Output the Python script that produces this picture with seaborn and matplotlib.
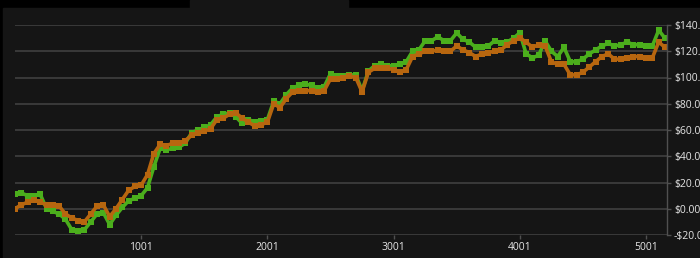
import matplotlib
matplotlib.use("Agg")
import matplotlib.pyplot as plt
import matplotlib.patches as mpatches
import numpy as np
import pandas as pd
import seaborn as sns

# x positions (trade index) and two series of values
x_vals = [1 + 50 * k for k in range(104)]
orange_vals = [0, 3, 5, 7, 5, 3, 3, 2, -4, -7, -9, -10, -4, 2, 3, -6, 0, 7, 14, 17,
               18, 26, 42, 49, 48, 50, 50, 52, 56, 58, 59, 61, 68, 69, 72, 73, 69, 66, 63, 64,
               66, 80, 77, 84, 89, 90, 90, 90, 89, 90, 99, 99, 100, 101, 100, 89, 104, 107, 107, 107,
               106, 104, 106, 116, 118, 120, 120, 121, 120, 120, 124, 121, 119, 116, 118, 119, 120, 121, 125, 128,
               130, 127, 123, 125, 124, 112, 110, 110, 102, 102, 104, 108, 112, 116, 118, 114, 114, 115, 116, 116,
               115, 115, 127, 123]
green_vals = [11, 12, 10, 10, 11, 0, -2, -4, -8, -16, -17, -16, -10, -4, -3, -12, -5, 1, 6, 8,
              10, 16, 32, 46, 45, 46, 47, 50, 58, 60, 62, 64, 70, 72, 73, 70, 65, 68, 66, 67,
              68, 82, 80, 87, 92, 94, 95, 94, 92, 93, 103, 101, 101, 102, 102, 90, 105, 109, 110, 109,
              109, 110, 112, 120, 121, 128, 128, 131, 128, 128, 134, 129, 127, 123, 123, 124, 128, 126, 127, 130,
              134, 118, 115, 117, 128, 120, 116, 123, 112, 112, 114, 118, 121, 124, 126, 124, 125, 127, 125, 125,
              124, 124, 136, 130]
y_ticks = [-20, 0, 20, 40, 60, 80, 100, 120, 140]
x_ticks = [1001, 2001, 3001, 4001, 5001]

GREEN = "#4bae1c"
ORANGE = "#b7660f"
PANEL = "#151515"

sns.set_theme(style="dark")
plt.rcParams['font.family'] = ['Open Sans', 'DejaVu Sans']

W, H = 700, 258
fig = plt.figure(figsize=(W / 100, H / 100), dpi=100)
fig.patch.set_facecolor("black")
# panel background and top tab
fig.add_artist(mpatches.Rectangle((3 / W, 0), (W - 3) / W, (H - 8) / H,
                                  transform=fig.transFigure, color=PANEL, zorder=-10))
fig.add_artist(mpatches.Rectangle((190 / W, (H - 8) / H), 158 / W, 8 / H,
                                  transform=fig.transFigure, color=PANEL, zorder=-10))

ax = fig.add_axes([15 / W, 23 / H, (667 - 15) / W, (235 - 25) / H])
ax.set_facecolor(PANEL)

df = pd.DataFrame({"x": x_vals * 2,
                   "value": green_vals + orange_vals,
                   "series": ["green"] * len(x_vals) + ["orange"] * len(x_vals)})

sns.lineplot(data=df, x="x", y="value", hue="series",
             palette={"green": GREEN, "orange": ORANGE},
             marker="s", markersize=5, markeredgewidth=0, linewidth=2.6,
             legend=False, ax=ax, estimator=None)

ax.set_xlim(1, 5167)
ax.set_ylim(-20, 140)
ax.set_xticks(x_ticks)
ax.set_xticklabels([str(t) for t in x_ticks])
ax.set_yticks(y_ticks)
ax.set_yticklabels([("-$%.2f" % -v) if v < 0 else ("$%.2f" % v) for v in y_ticks])
ax.yaxis.tick_right()
ax.set_xlabel("")
ax.set_ylabel("")

ax.grid(True, axis="y", color="#3c3c3c", linewidth=1.3)
ax.grid(False, axis="x")
ax.set_axisbelow(True)
for s in ["top", "left", "bottom"]:
    ax.spines[s].set_visible(False)
ax.spines["right"].set_visible(True)
ax.spines["right"].set_color("#505050")
ax.spines["right"].set_linewidth(1.0)

ax.tick_params(axis="y", which="both", right=True, length=3, width=1, color="#505050",
               labelsize=7.5, labelcolor="#e6e6e6", pad=2)
ax.tick_params(axis="x", which="both", bottom=True, length=3, width=1, color="#505050",
               labelsize=7.5, labelcolor="#e6e6e6", pad=2)

fig.savefig("out.png", dpi=100, facecolor=fig.get_facecolor())
